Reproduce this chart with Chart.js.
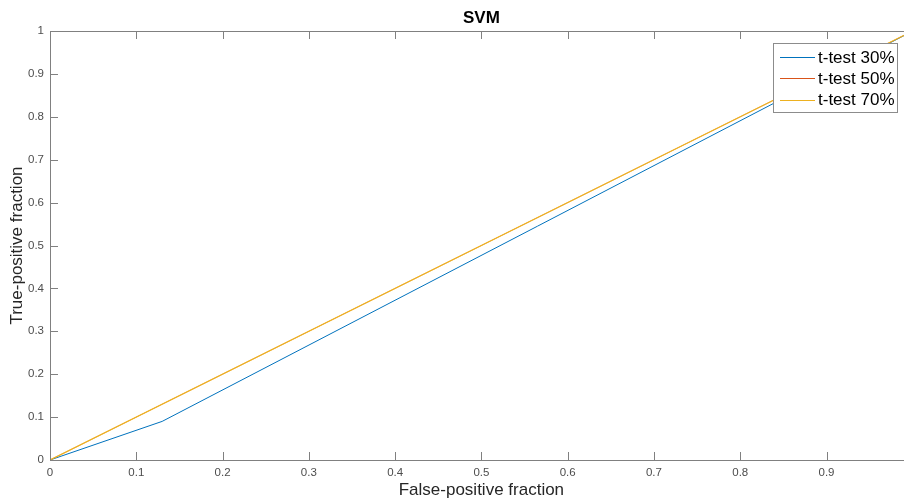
<!DOCTYPE html>
<html>
<head>
<meta charset="utf-8">
<script src="https://cdn.jsdelivr.net/npm/chart.js@4"></script>
<style>
html,body{margin:0;padding:0;background:#fff;overflow:hidden;}
#wrap{position:absolute;left:0;top:0;width:922px;height:502px;}
</style>
</head>
<body>
<div id="wrap"><canvas id="c" width="922" height="502"></canvas></div>
<script>
const chartTitle = 'SVM';
const xLabel = 'False-positive fraction';
const yLabel = 'True-positive fraction';
const seriesNames = ['t-test 30%', 't-test 50%', 't-test 70%'];
const seriesColors = ['#0072BD', '#D95319', '#EDB120'];
const fpr30 = [0, 0.13, 1];
const tpr30 = [0, 0.09, 1];
const fpr50 = [0, 1];
const tpr50 = [0, 1];
const fpr70 = [0, 1];
const tpr70 = [0, 1];
const xTickStep = 0.1;
const yTickStep = 0.1;

const axisColor = '#808080';
const tickTextColor = '#4d4d4d';
const FONT = 'Arial, "Liberation Sans", sans-serif';

function pts(xs, ys){ return xs.map((x,i)=>({x:x, y:ys[i]})); }
function fmt(v){ return String(+Number(v).toFixed(1)); }

const boxPlugin = {
  id: 'boxPlugin',
  afterDatasetsDraw(chart){
    const ctx = chart.ctx, a = chart.chartArea;
    const xs = chart.scales.x, ys = chart.scales.y;
    ctx.save();
    ctx.strokeStyle = axisColor;
    ctx.lineWidth = 1;
    ctx.strokeRect(Math.round(a.left)+0.5, Math.round(a.top)+0.5, Math.round(a.right-a.left), Math.round(a.bottom-a.top));
    const tl = 8;
    ctx.beginPath();
    xs.ticks.forEach((t,i)=>{
      const px = Math.round(xs.getPixelForTick(i))+0.5;
      ctx.moveTo(px, a.bottom); ctx.lineTo(px, a.bottom - tl);
      ctx.moveTo(px, a.top); ctx.lineTo(px, a.top + tl);
    });
    ys.ticks.forEach((t,i)=>{
      const py = Math.round(ys.getPixelForTick(i))+0.5;
      ctx.moveTo(a.left, py); ctx.lineTo(a.left + tl, py);
      ctx.moveTo(a.right, py); ctx.lineTo(a.right - tl, py);
    });
    ctx.stroke();
    // legend
    const lx = 773, ly = 43, lw = 124, lh = 69;
    ctx.fillStyle = '#fff';
    ctx.fillRect(lx, ly, lw, lh);
    ctx.strokeStyle = '#8c8c8c';
    ctx.strokeRect(lx+0.5, ly+0.5, lw, lh);
    ctx.font = '17px ' + FONT;
    ctx.textBaseline = 'middle';
    ctx.textAlign = 'left';
    chart.data.datasets.forEach((ds,i)=>{
      const yy = ly + 14 + i*21.3;
      ctx.strokeStyle = ds.borderColor;
      ctx.lineWidth = 1;
      ctx.beginPath();
      ctx.moveTo(lx+7, Math.round(yy)+0.5); ctx.lineTo(lx+42, Math.round(yy)+0.5);
      ctx.stroke();
      ctx.fillStyle = '#000';
      ctx.fillText(ds.label, lx+45, yy+1);
    });
    ctx.restore();
  }
};

new Chart(document.getElementById('c'), {
  type: 'line',
  data: {
    datasets: [
      {label: seriesNames[0], data: pts(fpr30,tpr30), borderColor: seriesColors[0], backgroundColor: seriesColors[0], borderWidth: 1, pointRadius: 0, order: 2, tension: 0},
      {label: seriesNames[1], data: pts(fpr50,tpr50), borderColor: seriesColors[1], backgroundColor: seriesColors[1], borderWidth: 0.5, pointRadius: 0, order: 1, tension: 0},
      {label: seriesNames[2], data: pts(fpr70,tpr70), borderColor: seriesColors[2], backgroundColor: seriesColors[2], borderWidth: 1.2, pointRadius: 0, order: 0, tension: 0}
    ]
  },
  options: {
    responsive: false,
    animation: false,
    layout: {padding: {left: 0, right: 0, top: 0, bottom: 0}},
    plugins: {
      legend: {display: false},
      tooltip: {enabled: false},
      title: {
        display: true, text: chartTitle, color: '#000', fullSize: false,
        font: {family: FONT, size: 17, weight: 'bold', lineHeight: 1.2},
        padding: {top: 8, bottom: 2.6}
      }
    },
    scales: {
      x: {
        type: 'linear', min: 0, max: 1,
        grid: {display: false, drawTicks: false},
        border: {display: false},
        ticks: {stepSize: xTickStep, color: tickTextColor, padding: 6, maxRotation: 0, autoSkip: false,
          callback: fmt,
          font: {family: FONT, size: 11.5}},
        title: {display: true, text: xLabel, color: '#262626', padding: {top: 0, bottom: 1},
          font: {family: FONT, size: 17, lineHeight: 1.2}},
        afterFit(s){ s.height = 42; }
      },
      y: {
        type: 'linear', min: 0, max: 1,
        grid: {display: false, drawTicks: false},
        border: {display: false},
        ticks: {stepSize: yTickStep, color: tickTextColor, padding: 6, autoSkip: false,
          callback: fmt,
          font: {family: FONT, size: 11.5}},
        title: {display: true, text: yLabel, color: '#262626', padding: {top: 7, bottom: 0},
          font: {family: FONT, size: 17, lineHeight: 1.2}},
        afterFit(s){ s.width = 50; }
      }
    }
  },
  plugins: [boxPlugin]
});
</script>
</body>
</html>
